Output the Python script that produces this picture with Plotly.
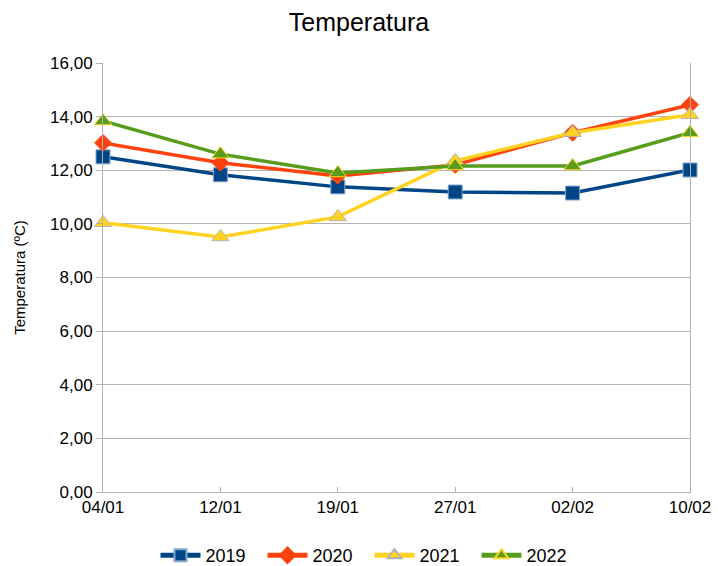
import plotly.graph_objects as go

categories = ["04/01", "12/01", "19/01", "27/01", "02/02", "10/02"]
s2019 = [12.50, 11.83, 11.38, 11.19, 11.15, 12.01]
s2020 = [13.02, 12.28, 11.79, 12.20, 13.40, 14.44]
s2021 = [10.04, 9.51, 10.26, 12.35, 13.40, 14.07]
s2022 = [13.84, 12.60, 11.90, 12.16, 12.16, 13.40]
y_ticks = [0, 2, 4, 6, 8, 10, 12, 14, 16]

series = [
    ("2019", s2019, "#004586", "square", 14, "#83a8cc"),
    ("2020", s2020, "#ff420e", "diamond", 13, "#ff420e"),
    ("2021", s2021, "#ffd320", "triangle-up", 15, "#b3b3b3"),
    ("2022", s2022, "#579d1c", "triangle-up", 15, "#ffd320"),
]

fig = go.Figure()
for name, vals, color, sym, size, edge in series:
    fig.add_trace(go.Scatter(
        x=categories, y=vals, name=name, mode="lines+markers",
        line=dict(color=color, width=3.5),
        marker=dict(symbol=sym, size=size, color=color, line=dict(color=edge, width=1)),
        cliponaxis=False,
    ))

axis_col = "#b3b3b3"
fig.update_layout(
    width=718, height=566,
    paper_bgcolor="white", plot_bgcolor="white",
    margin=dict(l=103, r=28, t=63, b=74, autoexpand=False),
    font=dict(family="Liberation Sans, Arial, sans-serif", color="#000000", size=17),
    separators=",.",
    title=dict(text="Temperatura", x=0.5, xanchor="center", y=0.961, yanchor="middle",
               font=dict(size=25)),
    showlegend=True,
    legend=dict(orientation="h", x=0.454, xanchor="center", y=-0.105, yanchor="top",
                font=dict(size=18), itemsizing="constant", itemwidth=40,
                entrywidth=52, entrywidthmode="pixels"),
    xaxis=dict(type="category", range=[0, 5], showgrid=False, showline=True,
               linecolor=axis_col, linewidth=1, ticks="inside", ticklen=5,
               tickcolor=axis_col, tickfont=dict(size=17), zeroline=False,
               automargin=False),
    yaxis=dict(range=[0, 16], tickvals=y_ticks, tickformat=".2f", showgrid=True,
               gridcolor=axis_col, gridwidth=1, showline=True, linecolor=axis_col,
               mirror=True, ticks="outside", ticklen=6, tickcolor=axis_col,
               tickfont=dict(size=17), zeroline=False, automargin=False,
               title=dict(text="Temperatura (ºC)", font=dict(size=15), standoff=20)),
)

fig.write_html("out.html", config={"displayModeBar": False},
               post_script="document.body.style.margin='0';document.body.style.overflow='hidden';")
